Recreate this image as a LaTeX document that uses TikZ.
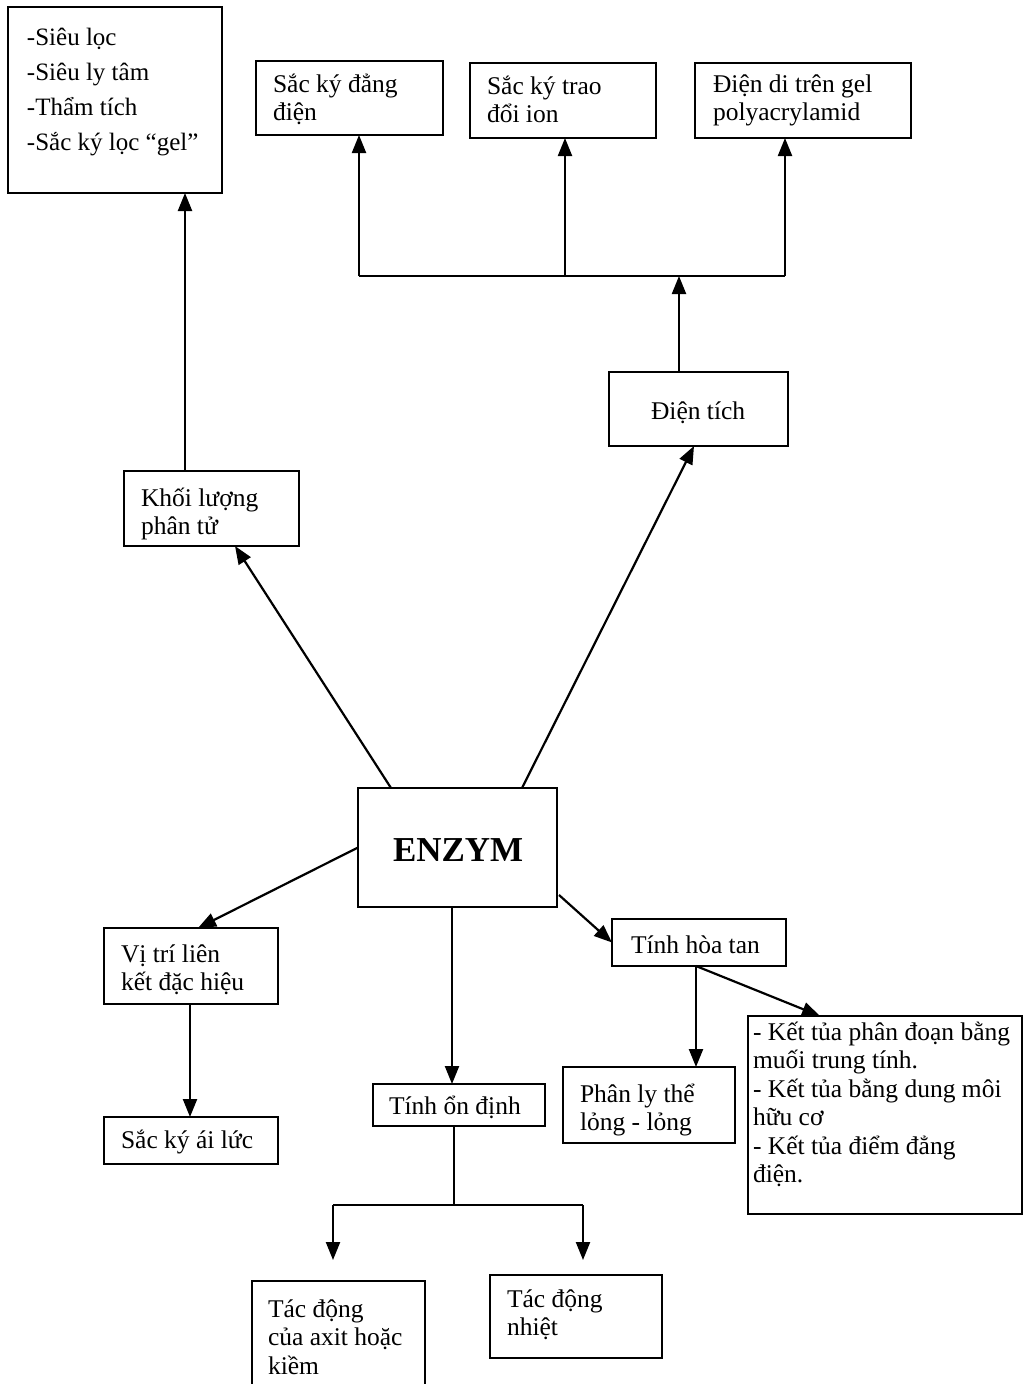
\documentclass[tikz,border=0pt]{standalone}
\usepackage{fontspec}
\setmainfont{Liberation Serif}
\usetikzlibrary{arrows.meta}
\newcommand\ml[1]{\parbox[t]{600pt}{\lineskiplimit=-100pt #1}}
\tikzset{
  box/.style={draw, line width=2.2pt, rectangle, inner sep=0pt, outer sep=0pt, anchor=north west},
  txt/.style={inner sep=0pt, outer sep=0pt, anchor=base west, font=\fontsize{25.5}{28.5}\selectfont},
  arr/.style={line width=2.2pt, -{Triangle[length=18pt,width=14pt]}},
  ln/.style={line width=2.2pt},
}
\begin{document}
\begin{tikzpicture}[x=1pt,y=-1pt]
\useasboundingbox (0,0) rectangle (1030,1384);
\fill[white] (0,0) rectangle (1030,1384);
\clip (0,0) rectangle (1030,1384);
% boxes
\node[box, minimum width=214, minimum height=186] (tl) at (8,7) {};
\node[box, minimum width=187, minimum height=74] (sk1) at (256,61) {};
\node[box, minimum width=186, minimum height=75] (sk2) at (470,63) {};
\node[box, minimum width=216, minimum height=75] (dd) at (695,63) {};
\node[box, minimum width=179, minimum height=74] (dt) at (609,372) {};
\node[box, minimum width=175, minimum height=75] (kl) at (124,471) {};
\node[box, minimum width=199, minimum height=119] (en) at (358,788) {};
\node[box, minimum width=174, minimum height=76] (vt) at (104,928) {};
\node[box, minimum width=174, minimum height=47] (sa) at (104,1117) {};
\node[box, minimum width=172, minimum height=42] (to) at (373,1084) {};
\node[box, minimum width=174, minimum height=47] (th) at (612,919) {};
\node[box, minimum width=172, minimum height=76] (pl) at (563,1067) {};
\node[box, minimum width=274, minimum height=198] (kt) at (748,1016) {};
\node[box, minimum width=173, minimum height=115] (ta) at (252,1281) {};
\node[box, minimum width=172, minimum height=83] (tn) at (490,1275) {};
% texts
\node[txt, font=\fontsize{25}{35}\selectfont] (ttl) at (27,45) {\ml{-Siêu lọc\\-Siêu ly tâm\\-Thẩm tích\\-Sắc ký lọc “gel”}};
\node[txt] (tsk1) at (273,92) {\ml{Sắc ký đẳng\\điện}};
\node[txt] (tsk2) at (487,94) {\ml{Sắc ký trao\\đổi ion}};
\node[txt] (tdd) at (713,92) {\ml{Điện di trên gel\\polyacrylamid}};
\node[txt] (tdt) at (651,419) {Điện tích};
\node[txt] (tkl) at (141,506) {\ml{Khối lượng\\phân tử}};
\node[txt, font=\fontsize{35}{40}\selectfont\bfseries] (ten) at (393,861) {ENZYM};
\node[txt] (tvt) at (121,962) {\ml{Vị trí liên\\kết đặc hiệu}};
\node[txt] (tsa) at (121,1148) {Sắc ký ái lức};
\node[txt] (tto) at (389,1114) {Tính ổn định};
\node[txt] (tth) at (631,953) {Tính hòa tan};
\node[txt] (tpl) at (580,1102) {\ml{Phân ly thể\\lỏng - lỏng}};
\node[txt] (tkt) at (753,1040) {\ml{- Kết tủa phân đoạn bằng\\muối trung tính.\\- Kết tủa bằng dung môi\\hữu cơ\\- Kết tủa điểm đẳng\\điện.}};
\node[txt] (tta) at (268,1317) {\ml{Tác động\\của axit hoặc\\kiềm}};
\node[txt] (ttn) at (507,1307) {\ml{Tác động\\nhiệt}};
% connector coordinates
\coordinate (busL) at (359,276);
\coordinate (busM) at (565,276);
\coordinate (busR) at (785,276);
\coordinate (sp) at (454,1205);
\coordinate (spL) at (333,1205);
\coordinate (spR) at (583,1205);
\coordinate (aL) at (333,1260);
\coordinate (aR) at (583,1260);
% connectors
\draw[arr] ([xshift=61pt]kl.north west) -- ([xshift=61pt]kl.north west |- tl.south);
\draw[ln] (busL) -- (busR);
\draw[arr] (busL) -- (busL |- sk1.south);
\draw[arr] (busM) -- (busM |- sk2.south);
\draw[arr] (busR) -- (busR |- dd.south);
\draw[arr] ([xshift=70pt]dt.north west) -- ([xshift=70pt]dt.north west |- busL);
\draw[arr] ([xshift=33pt]en.north west) -- ([xshift=111pt]kl.south west);
\draw[arr] ([xshift=164pt]en.north west) -- ([xshift=85pt]dt.south west);
\draw[arr] (en.west) -- ([xshift=94pt]vt.north west);
\draw[arr] ([xshift=86pt]vt.south west) -- ([xshift=86pt]vt.south west |- sa.north);
\draw[arr] ([xshift=94pt]en.south west) -- ([xshift=94pt]en.south west |- to.north);
\draw[ln] (to.south -| sp) -- (sp);
\draw[ln] (spL) -- (spR);
\draw[arr] (spL) -- (aL);
\draw[arr] (spR) -- (aR);
\draw[arr] ([yshift=12pt,xshift=2pt]en.south east) -- (th.west);
\draw[arr] ([xshift=84pt]th.south west) -- ([xshift=84pt]th.south west |- pl.north);
\draw[arr] ([xshift=84pt]th.south west) -- ([xshift=72pt]kt.north west);
\end{tikzpicture}
\end{document}
